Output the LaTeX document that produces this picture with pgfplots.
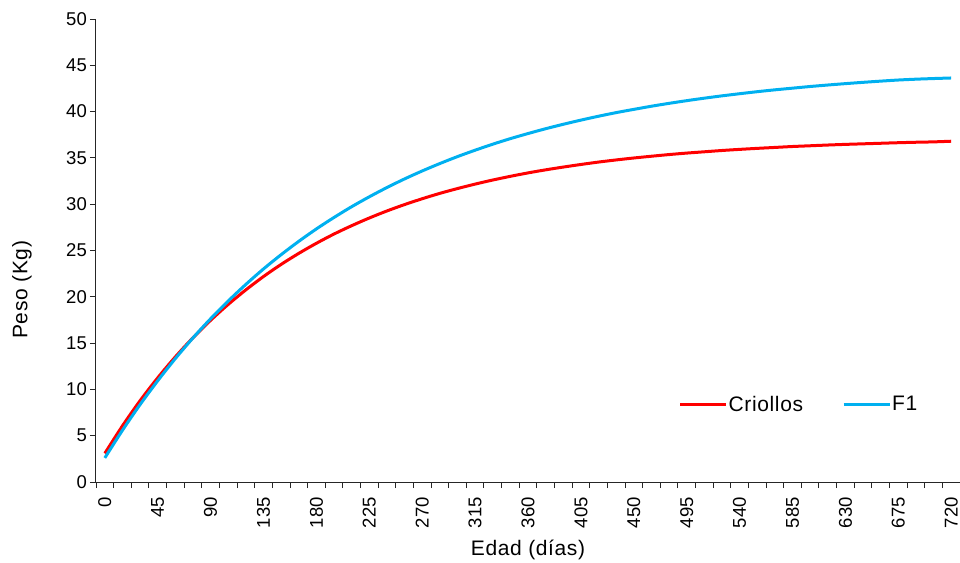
\documentclass[border=0pt]{standalone}
\usepackage{pgfplots}
\pgfplotsset{compat=1.18}
\usepackage{fontspec}
\setmainfont{Liberation Sans}
\usetikzlibrary{calc}
\definecolor{crio}{RGB}{255,0,0}
\definecolor{fone}{RGB}{0,176,240}
\begin{document}
\begin{tikzpicture}
\begin{axis}[
  scale only axis,
  width=864pt, height=463pt,
  xmin=-7.5, xmax=727.5, ymin=0, ymax=50,
  axis lines*=left,
  axis line style={line width=1pt, color=black!85},
  tick align=outside,
  xtick={0,45,...,720},
  major x tick style={draw=none},
  minor xtick={-7.5,7.5,...,727.5},
  minor tick length=6pt,
  minor x tick style={line width=0.9pt, color=black!85},
  ytick={0,5,...,50},
  major tick length=6pt,
  y tick style={line width=0.9pt, color=black!85},
  /pgf/number format/assume math mode=true,
  ticklabel style={font=\fontsize{18.5}{18.5}\selectfont},
  xticklabel style={rotate=90, anchor=east, inner sep=0pt},
  xticklabel shift=9pt,
  yticklabel style={anchor=east, inner sep=0pt},
  yticklabel shift=3pt,
  xlabel={Edad (días)},
  ylabel={Peso (Kg)},
  label style={font=\fontsize{21}{21}\selectfont\addfontfeatures{LetterSpace=3}},
  xlabel style={at={(rel axis cs:0.5,0)}, anchor=center, yshift=-68pt},
  ylabel style={at={(rel axis cs:0,0.415)}, anchor=center, yshift=74pt},
  legend columns=2,
  legend style={draw=none, fill=none, at={(rel axis cs:0.813,0.168)}, anchor=center,
    font=\fontsize{21}{21}\selectfont\addfontfeatures{LetterSpace=3},
    nodes={inner sep=1pt},
    /tikz/every even column/.append style={column sep=38pt}},
  legend image code/.code={\draw[#1] (0pt,0pt) -- (46pt,0pt);},
]
\coordinate (O) at (rel axis cs:0,0);
\coordinate (T) at (rel axis cs:1,1);
\addplot[crio, line width=3pt, smooth] coordinates {
(0,3.09) (15,6.06) (30,8.78) (45,11.25) (60,13.51) (75,15.58) (90,17.46) (105,19.18)
(120,20.75) (135,22.19) (150,23.50) (165,24.69) (180,25.78) (195,26.78) (210,27.68)
(225,28.51) (240,29.27) (255,29.96) (270,30.59) (285,31.17) (300,31.69) (315,32.17)
(330,32.61) (345,33.01) (360,33.38) (375,33.71) (390,34.01) (405,34.29) (420,34.55)
(435,34.78) (450,34.99) (465,35.18) (480,35.36) (495,35.52) (510,35.66) (525,35.80)
(540,35.92) (555,36.03) (570,36.13) (585,36.23) (600,36.31) (615,36.39) (630,36.46)
(645,36.52) (660,36.58) (675,36.64) (690,36.69) (705,36.73) (720,36.80)
};
\addlegendentry{Criollos}
\addplot[fone, line width=3pt, smooth] coordinates {
(0,2.60) (15,5.58) (30,8.36) (45,10.93) (60,13.33) (75,15.56) (90,17.63) (105,19.55)
(120,21.34) (135,23.01) (150,24.55) (165,25.99) (180,27.33) (195,28.57) (210,29.73)
(225,30.80) (240,31.80) (255,32.73) (270,33.59) (285,34.39) (300,35.14) (315,35.83)
(330,36.48) (345,37.08) (360,37.63) (375,38.15) (390,38.63) (405,39.08) (420,39.50)
(435,39.89) (450,40.24) (465,40.58) (480,40.89) (495,41.18) (510,41.45) (525,41.70)
(540,41.93) (555,42.15) (570,42.35) (585,42.53) (600,42.71) (615,42.87) (630,43.02)
(645,43.16) (660,43.29) (675,43.41) (690,43.50) (705,43.57) (720,43.63)
};
\addlegendentry{F1}
\end{axis}
\pgfresetboundingbox
\path ($(O)+(-96pt,-80pt)$) rectangle ($(T)+(0pt,19pt)$);
\end{tikzpicture}
\end{document}
